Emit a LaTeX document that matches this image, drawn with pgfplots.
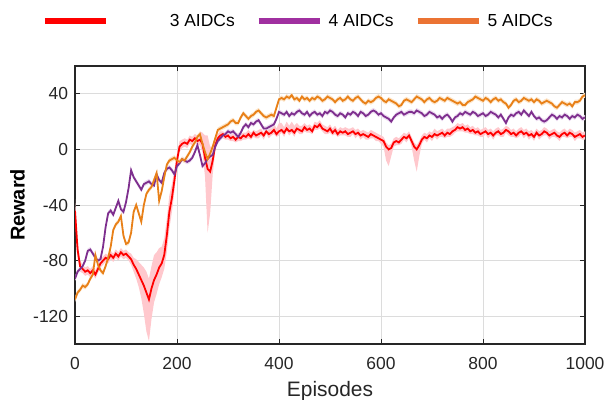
\documentclass[border=0pt]{standalone}
\usepackage{pgfplots}
\usepackage{pgfplotstable}
\pgfplotsset{compat=1.18}
\usepgfplotslibrary{fillbetween}
\usepackage{fontspec}
\setmainfont{Liberation Sans}
\definecolor{cred}{RGB}{255,0,0}
\definecolor{cpur}{RGB}{126,47,142}
\definecolor{cora}{RGB}{232,128,24}
\definecolor{lpur}{RGB}{160,48,160}
\definecolor{lora}{RGB}{235,115,51}
\definecolor{axc}{RGB}{38,38,38}
\definecolor{gridc}{RGB}{220,220,220}
\definecolor{pinkb}{RGB}{255,200,205}
\definecolor{purb}{RGB}{236,220,240}
\definecolor{orab}{RGB}{252,228,200}

\pgfplotstableread{
x y lo hi
0 -44 4 8
5 -72 6 8
10 -84 4 4
15 -86 3 3
20 -88 3 3
25 -87 3 3
30 -89 3 3
35 -87 3 3
40 -90 3 3
45 -86 3 3
50 -82 3 3
55 -80 3 3
60 -78 3 3
65 -79 3 3
70 -76 3 3
75 -78 3 3
80 -75 3 3
85 -77 3 3
90 -74 3 3
95 -76 3 3
100 -75 3 3
105 -77 3 3
110 -79 4 4
115 -83 5 5
120 -86 7 7
125 -90 9 9
130 -94 13 11
135 -98 20 13
140 -103 28 15
145 -108 30 15
150 -100 22 16
155 -94 16 18
160 -90 14 16
165 -85 12 14
170 -82 10 12
175 -76 10 12
180 -62 12 12
185 -45 12 12
190 -35 10 10
195 -22 8 8
200 -8 5 5
205 2 4 4
210 4 3 3
215 5 3 3
220 4 3 3
225 7 3 3
230 6 3 3
235 8 3 3
240 6 3 4
245 7 4 6
250 4 6 8
255 -6 14 16
260 -14 46 24
265 -16 30 18
270 -8 10 10
275 3 4 4
280 8 3 3
285 10 2 3
290 11 3 2
295 9 2 3
300 10 3 3
305 8 2 3
310 9 3 2
315 7 2 3
320 9 3 3
325 8 2 3
330 10 3 2
335 9 2 3
340 11 3 3
345 9 2 3
350 12 3 2
355 10 2 3
360 11 3 3
365 12 2 3
370 10 3 2
375 13 2 3
380 11 3 4
385 12 2 3
390 14 3 5
395 11 2 4
400 13 3 6
405 14 2 5
410 12 3 4
415 15 2 5
420 13 3 4
425 14 2 6
430 12 3 5
435 15 2 4
440 14 3 3
445 13 2 4
450 16 3 3
455 14 2 3
460 15 3 3
465 13 2 3
470 17 3 3
475 16 2 3
480 18 3 3
485 15 2 3
490 14 3 3
495 13 2 3
500 15 3 3
505 12 2 3
510 14 3 3
515 11 2 3
520 13 3 3
525 12 2 3
530 13 3 3
535 11 2 4
540 12 3 3
545 13 2 3
550 11 3 3
555 12 2 3
560 10 3 3
565 11 2 3
570 10 3 3
575 9 2 3
580 11 3 3
585 10 2 3
590 9 3 3
595 8 2 3
600 7 3 3
605 6 4 3
610 2 10 3
615 0 12 3
620 1 6 3
625 5 3 3
630 6 3 3
635 5 2 3
640 7 3 3
645 9 2 3
650 8 3 3
655 10 2 3
660 6 4 3
665 2 10 3
670 0 16 3
675 3 8 3
680 7 3 3
685 9 2 3
690 8 3 3
695 10 2 3
700 9 3 3
705 11 2 4
710 10 3 3
715 11 2 3
720 12 3 3
725 10 2 3
730 12 3 3
735 11 2 4
740 13 3 3
745 14 2 3
750 16 3 3
755 15 2 3
760 16 3 3
765 14 2 3
770 15 3 3
775 13 2 3
780 14 3 3
785 12 2 3
790 13 3 3
795 11 2 3
800 12 3 3
805 13 2 3
810 11 3 3
815 12 2 3
820 10 3 3
825 12 2 3
830 13 3 3
835 11 2 3
840 12 3 3
845 14 2 3
850 13 3 3
855 11 2 3
860 12 3 3
865 10 2 3
870 12 3 3
875 13 2 3
880 11 3 3
885 12 2 3
890 10 3 3
895 11 2 3
900 9 3 3
905 12 2 3
910 10 3 3
915 11 2 3
920 13 3 3
925 12 2 3
930 10 3 3
935 11 2 3
940 12 3 3
945 10 2 3
950 9 3 3
955 11 2 3
960 12 3 3
965 10 2 3
970 12 3 3
975 11 2 3
980 9 3 3
985 10 2 3
990 11 3 3
995 9 2 3
1000 10 3 3
}\redt

\pgfplotstableread{
x y
0 -93
5 -88
10 -86
15 -84
20 -80
25 -73
30 -72
35 -75
40 -78
45 -80
50 -79
55 -70
60 -56
65 -46
70 -44
75 -47
80 -42
85 -37
90 -43
95 -45
100 -38
105 -28
110 -15
115 -20
120 -23
125 -26
130 -29
135 -25
140 -24
145 -23
150 -25
155 -26
160 -18
165 -22
170 -24
175 -17
180 -14
185 -13
190 -15
195 -18
200 -12
205 -10
210 -7
215 -8
220 -9
225 -8
230 -6
235 -2
240 3
245 -4
250 -12
255 -10
260 -7
265 -5
270 -4
275 2
280 6
285 8
290 10
295 11
300 13
305 12
310 13
315 11
320 9
325 12
330 16
335 18
340 16
345 19
350 18
355 20
360 21
365 18
370 15
375 15
380 16
385 17
390 18
395 22
400 27
405 26
410 25
415 27
420 24
425 26
430 25
435 27
440 28
445 26
450 25
455 27
460 24
465 26
470 27
475 25
480 26
485 24
490 27
495 26
500 28
505 27
510 25
515 24
520 26
525 25
530 23
535 26
540 25
545 27
550 26
555 24
560 27
565 26
570 24
575 25
580 27
585 28
590 27
595 25
600 26
605 24
610 23
615 22
620 20
625 23
630 25
635 26
640 27
645 25
650 26
655 27
660 27
665 26
670 28
675 27
680 26
685 24
690 25
695 27
700 26
705 25
710 23
715 24
720 22
725 24
730 25
735 23
740 20
745 23
750 24
755 26
760 25
765 27
770 26
775 25
780 27
785 26
790 24
795 25
800 26
805 24
810 25
815 27
820 26
825 25
830 23
835 25
840 22
845 19
850 23
855 25
860 24
865 26
870 27
875 25
880 28
885 26
890 24
895 27
900 24
905 22
910 23
915 21
920 20
925 21
930 23
935 25
940 24
945 22
950 24
955 23
960 25
965 24
970 22
975 24
980 23
985 25
990 24
995 22
1000 23
}\purt

\pgfplotstableread{
x y
0 -108
5 -103
10 -101
15 -98
20 -99
25 -97
30 -93
35 -90
40 -76
45 -83
50 -87
55 -89
60 -84
65 -78
70 -70
75 -58
80 -54
85 -52
90 -48
95 -62
100 -68
105 -67
110 -60
115 -45
120 -40
125 -46
130 -52
135 -40
140 -32
145 -29
150 -27
155 -22
160 -17
165 -37
170 -30
175 -20
180 -11
185 -8
190 -7
195 -6
200 -8
205 -9
210 -7
215 -8
220 -5
225 -2
230 2
235 5
240 9
245 11
250 4
255 -2
260 -7
265 -3
270 2
275 8
280 14
285 15
290 16
295 17
300 18
305 20
310 21
315 19
320 19
325 23
330 26
335 24
340 22
345 24
350 25
355 27
360 28
365 26
370 24
375 23
380 24
385 25
390 24
395 30
400 36
405 37
410 36
415 38
420 37
425 39
430 36
435 37
440 35
445 38
450 36
455 37
460 35
465 37
470 36
475 38
480 37
485 35
490 36
495 38
500 37
505 36
510 34
515 36
520 37
525 35
530 36
535 38
540 36
545 35
550 37
555 38
560 36
565 34
570 33
575 35
580 34
585 35
590 37
595 38
600 37
605 35
610 34
615 36
620 35
625 34
630 33
635 31
640 32
645 35
650 36
655 35
660 34
665 36
670 38
675 37
680 36
685 34
690 36
695 37
700 35
705 34
710 35
715 37
720 36
725 35
730 37
735 36
740 35
745 34
750 33
755 34
760 32
765 32
770 34
775 35
780 36
785 38
790 37
795 36
800 35
805 37
810 36
815 34
820 36
825 37
830 35
835 36
840 34
845 33
850 30
855 32
860 35
865 36
870 34
875 35
880 37
885 36
890 35
895 36
900 34
905 36
910 35
915 33
920 34
925 35
930 34
935 33
940 31
945 30
950 32
955 34
960 33
965 32
970 33
975 31
980 34
985 34
990 35
995 38
1000 39
}\orat

\begin{document}
\begin{tikzpicture}
\begin{axis}[
  scale only axis,
  width=510bp, height=278bp,
  xmin=0, xmax=1000, ymin=-140, ymax=60,
  xtick={0,200,400,600,800,1000},
  ytick={-120,-80,-40,0,40},
  tick align=inside,
  major tick length=5bp,
  tick style={axc, line width=0.8bp},
  axis line style={axc, line width=1.2bp},
  grid=major,
  major grid style={gridc, line width=0.8bp},
  /pgf/number format/assume math mode=true,
  /pgf/number format/1000 sep={},
  ticklabel style={font=\fontsize{17.5}{20}\selectfont, text=axc},
  xticklabel style={inner sep=0pt, anchor=north, yshift=-13bp},
  yticklabel style={inner sep=0pt, anchor=east, xshift=-6.7bp},
  xlabel={Episodes},
  xlabel style={font=\fontsize{21}{24}\selectfont, text=axc, at={(axis description cs:0.5,-0.19)}, anchor=base},
  ylabel={\bfseries Reward},
  ylabel style={font=\fontsize{20}{24}\selectfont, text=black, at={(axis description cs:-0.1127,0.5)}, anchor=center},
  legend image code/.code={\draw[#1] (0bp,0bp) -- (61bp,0bp);},
  legend columns=3,
  legend style={draw=none, fill=none, inner sep=0pt, outer sep=0pt,
    font=\fontsize{17.5}{20}\selectfont,
    anchor=west, at={(axis description cs:-0.065,1.162)},
    /tikz/every odd column/.append style={column sep=4bp},
    /tikz/every even column/.append style={column sep=19bp}},
]
\addlegendimage{cred, line width=6bp}
\addlegendentry{\hspace*{55bp}3 AIDCs}
\addlegendimage{lpur, line width=6bp}
\addlegendentry{4 AIDCs}
\addlegendimage{lora, line width=6bp}
\addlegendentry{5 AIDCs}

\addplot[draw=none, name path=ru, forget plot] table[x=x, y expr=\thisrow{y}+\thisrow{hi}] {\redt};
\addplot[draw=none, name path=rl, forget plot] table[x=x, y expr=\thisrow{y}-\thisrow{lo}] {\redt};
\addplot[pinkb, forget plot] fill between[of=ru and rl];

\addplot[draw=none, name path=pu, forget plot] table[x=x, y expr=\thisrow{y}+1.8] {\purt};
\addplot[draw=none, name path=pl, forget plot] table[x=x, y expr=\thisrow{y}-1.8] {\purt};
\addplot[purb, forget plot] fill between[of=pu and pl];

\addplot[draw=none, name path=ou, forget plot] table[x=x, y expr=\thisrow{y}+1.8] {\orat};
\addplot[draw=none, name path=ol, forget plot] table[x=x, y expr=\thisrow{y}-1.8] {\orat};
\addplot[orab, forget plot] fill between[of=ou and ol];

\addplot[cred, line width=1.8bp, forget plot] table[x=x, y=y] {\redt};
\addplot[cpur, line width=1.8bp, forget plot] table[x=x, y=y] {\purt};
\addplot[cora, line width=1.8bp, forget plot] table[x=x, y=y] {\orat};

\path (rel axis cs:0,0) coordinate (bl);
\end{axis}
\pgfresetboundingbox
\path (bl) ++(-75bp,-56bp) rectangle ++(605bp,400bp);
\end{tikzpicture}
\end{document}
